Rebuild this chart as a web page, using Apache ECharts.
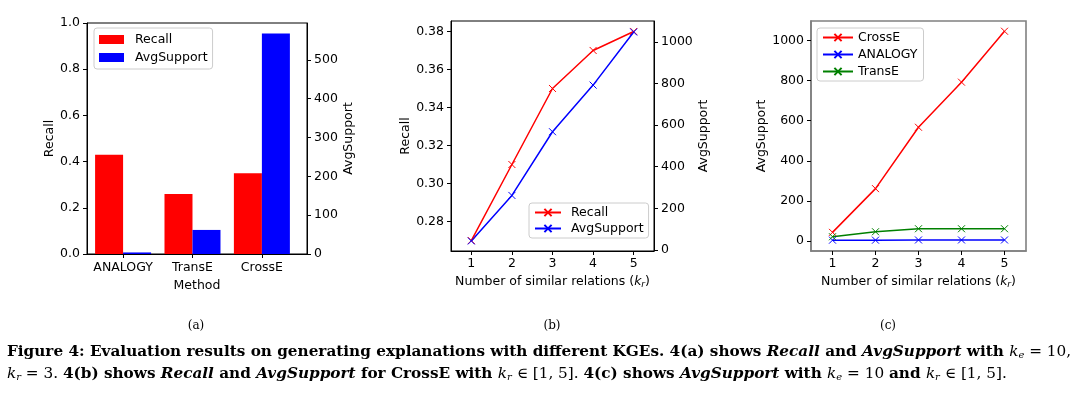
<!DOCTYPE html>
<html><head><meta charset="utf-8">
<script src="https://cdn.jsdelivr.net/npm/echarts@6/dist/echarts.min.js"></script>
<style>html,body{margin:0;padding:0;background:#fff}#c{width:1080px;height:398px}</style>
</head><body><div id="c"></div>
<script>
// ---- data ----
const methods = ['ANALOGY', 'TransE', 'CrossE'];
const methodPos = [0, 1, 2];
const recallA = [0.43, 0.26, 0.35];
const avgSupportA = [4, 62, 568];
const kr = [1, 2, 3, 4, 5];
const recallB = [0.27, 0.31, 0.35, 0.37, 0.38];
const avgSupportB = [43, 262, 568, 792, 1047];
const crossEC = [43, 261, 567, 792, 1046];
const analogyC = [4, 4, 5, 5, 5];
const transEC = [21, 46, 61, 61, 61];
const recallTicksA = [0, 0.2, 0.4, 0.6, 0.8, 1.0];
const supportTicksA = [0, 100, 200, 300, 400, 500];
const recallTicksB = [0.28, 0.30, 0.32, 0.34, 0.36, 0.38];
const supportTicksB = [0, 200, 400, 600, 800, 1000];
const supportTicksC = [0, 200, 400, 600, 800, 1000];

const F = 'DejaVu Sans';
const FS = 12.5;
const INK = '#000';
const GREY = '#808080';
const X = 'path://M0,0L10,10M10,0L0,10';
const pair = (xs, ys) => xs.map((x, i) => [x, ys[i]]);

const axLine = (c, w) => ({show: true, onZero: false, lineStyle: {color: c || INK, width: w || 1}});
const axTick = (vals) => ({show: true, inside: false, length: 4, lineStyle: {color: INK, width: 1}, customValues: vals});
const axLabel = (vals, fmt, m) => ({show: true, color: INK, fontFamily: F, fontSize: FS, margin: m, customValues: vals, formatter: fmt});
const nameStyle = {color: INK, fontFamily: F, fontSize: FS};
const krName = 'Number of similar relations ({k|k}{r|r})';
const krNameStyle = {color: INK, fontFamily: F, fontSize: FS,
  rich: {k: {fontFamily: F, fontSize: FS, fontStyle: 'italic', color: INK},
         r: {fontFamily: F, fontSize: 9, fontStyle: 'italic', color: INK, padding: [6, 0, 0, 0]}}};

function lineSeries(name, xi, yi, data, color) {
  return {type: 'line', name, xAxisIndex: xi, yAxisIndex: yi, data,
    color, symbol: X, symbolSize: 7, showSymbol: true,
    lineStyle: {color, width: 1.5},
    itemStyle: {color, borderColor: color, borderWidth: 1},
    emphasis: {disabled: true}, animation: false};
}

const legendBase = {orient: 'vertical', backgroundColor: '#fff', borderColor: '#ccc', borderWidth: 1,
  borderRadius: 3, textStyle: {color: INK, fontFamily: F, fontSize: FS},
  formatter: n => n.trim(), selectedMode: false};

// ---- caption (layout only) ----
const CAP_FONT = 'DejaVu Serif';
const capSegs1 = [['b', 'Figure 4: Evaluation results on generating explanations with different KGEs. 4(a) shows '], ['bi', 'Recall'], ['b', ' and '], ['bi', 'AvgSupport'], ['b', ' with '], ['i', 'k'], ['s', 'e'], ['n', ' = 10,']];
const capSegs2 = [['i', 'k'], ['s', 'r'], ['n', ' = 3. '], ['b', '4(b) shows '], ['bi', 'Recall'], ['b', ' and '], ['bi', 'AvgSupport'], ['b', ' for CrossE with '], ['i', 'k'], ['s', 'r'], ['n', ' \u2208 [1, 5]. '], ['b', '4(c) shows '], ['bi', 'AvgSupport'], ['b', ' with '], ['i', 'k'], ['s', 'e'], ['n', ' = 10 '], ['b', 'and '], ['i', 'k'], ['s', 'r'], ['n', ' \u2208 [1, 5].']];
function capStyles(cf) {
  return {
    b: {fontFamily: CAP_FONT, fontSize: cf, fontWeight: 'bold', fill: INK},
    bi: {fontFamily: CAP_FONT, fontSize: cf, fontWeight: 'bold', fontStyle: 'italic', fill: INK},
    n: {fontFamily: CAP_FONT, fontSize: cf, fill: INK},
    i: {fontFamily: CAP_FONT, fontSize: cf, fontStyle: 'italic', fill: INK},
    s: {fontFamily: CAP_FONT, fontSize: Math.round(cf * 0.68), fontStyle: 'italic', fill: INK, padding: [Math.round(cf * 0.42), 0, 0, 0]}
  };
}
function measure(segs, cf) {
  const ctx = document.createElement('canvas').getContext('2d');
  const st = capStyles(cf);
  let w = 0;
  segs.forEach(([k, t]) => {
    const s = st[k];
    ctx.font = (s.fontStyle || '') + ' ' + (s.fontWeight || '') + ' ' + s.fontSize + 'px "' + CAP_FONT + '"';
    w += ctx.measureText(t).width;
  });
  return w;
}
const capW = measure(capSegs1, 15);
const CF = Math.max(12, Math.min(17, 15 * 1065 / capW));
const toRich = segs => segs.map(([k, t]) => '{' + k + '|' + t + '}').join('');

const option = {
  animation: false,
  grid: [
    {left: 87, top: 23, width: 220, height: 231, show: true, borderColor: INK, borderWidth: 1, backgroundColor: 'transparent'},
    {left: 451, top: 21, width: 203, height: 230, show: true, borderColor: INK, borderWidth: 1, backgroundColor: 'transparent'},
    {left: 811, top: 21, width: 215, height: 230, show: true, borderColor: GREY, borderWidth: 1.6, backgroundColor: 'transparent'}
  ],
  xAxis: [
    {type: 'value', gridIndex: 0, min: -0.52, max: 2.65, splitLine: {show: false},
     axisLine: axLine(), axisTick: axTick(methodPos),
     axisLabel: axLabel(methodPos, v => methods[Math.round(v)] || '', 7),
     name: 'Method', nameLocation: 'middle', nameGap: 22, nameTextStyle: nameStyle},
    {type: 'value', gridIndex: 1, min: 0.5, max: 5.5, splitLine: {show: false},
     axisLine: axLine(), axisTick: axTick(kr), axisLabel: axLabel(kr, v => String(v), 6),
     name: krName, nameLocation: 'middle', nameGap: 23, nameTextStyle: krNameStyle},
    {type: 'value', gridIndex: 2, min: 0.5, max: 5.5, splitLine: {show: false},
     axisLine: axLine(GREY, 1.6), axisTick: axTick(kr), axisLabel: axLabel(kr, v => String(v), 6),
     name: krName, nameLocation: 'middle', nameGap: 23, nameTextStyle: krNameStyle}
  ],
  yAxis: [
    {type: 'value', gridIndex: 0, position: 'left', min: 0, max: 1.0, splitLine: {show: false},
     axisLine: axLine(), axisTick: axTick(recallTicksA), axisLabel: axLabel(recallTicksA, v => v.toFixed(1), 7),
     name: 'Recall', nameLocation: 'middle', nameRotate: 90, nameGap: 31, nameTextStyle: nameStyle},
    {type: 'value', gridIndex: 0, position: 'right', min: 0, max: 595, splitLine: {show: false},
     axisLine: axLine(), axisTick: axTick(supportTicksA), axisLabel: axLabel(supportTicksA, v => String(v), 7),
     name: 'AvgSupport', nameLocation: 'middle', nameRotate: 90, nameGap: 33, nameTextStyle: nameStyle},
    {type: 'value', gridIndex: 1, position: 'left', min: 0.2645, max: 0.3855, splitLine: {show: false},
     axisLine: axLine(), axisTick: axTick(recallTicksB), axisLabel: axLabel(recallTicksB, v => v.toFixed(2), 7),
     name: 'Recall', nameLocation: 'middle', nameRotate: 90, nameGap: 39, nameTextStyle: nameStyle},
    {type: 'value', gridIndex: 1, position: 'right', min: -5, max: 1100, splitLine: {show: false},
     axisLine: axLine(), axisTick: axTick(supportTicksB), axisLabel: axLabel(supportTicksB, v => String(v), 7),
     name: 'AvgSupport', nameLocation: 'middle', nameRotate: 90, nameGap: 43, nameTextStyle: nameStyle},
    {type: 'value', gridIndex: 2, position: 'left', min: -50, max: 1097, splitLine: {show: false},
     axisLine: axLine(GREY, 1.6), axisTick: axTick(supportTicksC), axisLabel: axLabel(supportTicksC, v => String(v), 7),
     name: 'AvgSupport', nameLocation: 'middle', nameRotate: 90, nameGap: 43, nameTextStyle: nameStyle}
  ],
  legend: [
    Object.assign({}, legendBase, {left: 94, top: 28, data: ['Recall', 'AvgSupport'], icon: 'rect',
      itemWidth: 25, itemHeight: 9, itemGap: 5, padding: [5, 5, 5, 5],
      textStyle: {color: INK, fontFamily: F, fontSize: FS, padding: [0, 0, 0, 6]}}),
    Object.assign({}, legendBase, {left: 529, top: 203, data: ['Recall ', 'AvgSupport '],
      itemWidth: 26, itemHeight: 9, itemGap: 3, padding: [3, 5, 3, 5],
      textStyle: {color: INK, fontFamily: F, fontSize: FS, padding: [0, 0, 0, 5]}}),
    Object.assign({}, legendBase, {left: 817, top: 28, data: ['CrossE', 'ANALOGY', 'TransE'],
      itemWidth: 30, itemHeight: 9, itemGap: 4, padding: [3, 6, 3, 5]})
  ],
  series: [
    {type: 'bar', name: 'Recall', xAxisIndex: 0, yAxisIndex: 0, data: pair(methodPos, recallA),
     barWidth: 28, barGap: '0%', itemStyle: {color: '#ff0000'}, color: '#ff0000', emphasis: {disabled: true}},
    {type: 'bar', name: 'AvgSupport', xAxisIndex: 0, yAxisIndex: 1, data: pair(methodPos, avgSupportA),
     barWidth: 28, barGap: '0%', itemStyle: {color: '#0000ff'}, color: '#0000ff', emphasis: {disabled: true}},
    lineSeries('Recall ', 1, 2, pair(kr, recallB), '#ff0000'),
    lineSeries('AvgSupport ', 1, 3, pair(kr, avgSupportB), '#0000ff'),
    lineSeries('CrossE', 2, 4, pair(kr, crossEC), '#ff0000'),
    lineSeries('ANALOGY', 2, 4, pair(kr, analogyC), '#0000ff'),
    lineSeries('TransE', 2, 4, pair(kr, transEC), '#008000')
  ],
  graphic: (function () {
    const rich = capStyles(CF);
    const sub = (t, x) => ({type: 'text', x, y: 326, style: {text: t, font: '12px "DejaVu Serif"', fill: INK, align: 'center', verticalAlign: 'middle'}});
    return [
      sub('(a)', 196), sub('(b)', 552), sub('(c)', 888),
      {type: 'text', x: 7, y: 352, style: {text: toRich(capSegs1), rich, align: 'left', verticalAlign: 'middle'}},
      {type: 'text', x: 7, y: 374, style: {text: toRich(capSegs2), rich, align: 'left', verticalAlign: 'middle'}}
    ];
  })()
};
const chart = echarts.init(document.getElementById('c'), null, {renderer: 'canvas'});
chart.setOption(option);
</script></body></html>
